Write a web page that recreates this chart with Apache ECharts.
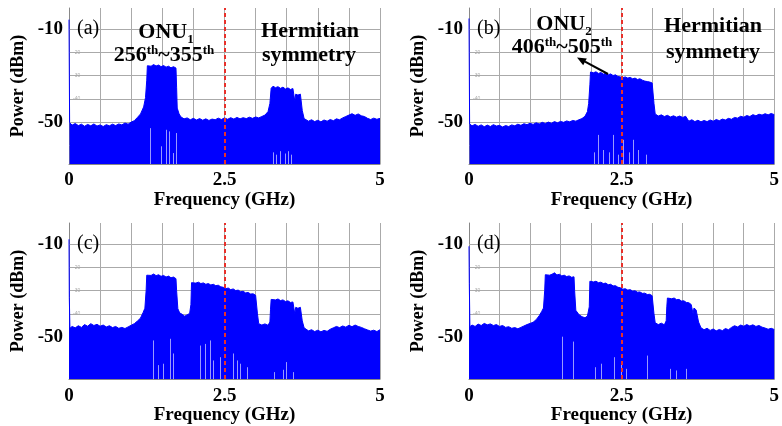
<!DOCTYPE html>
<html>
<head>
<meta charset="utf-8">
<script src="https://cdn.jsdelivr.net/npm/echarts@6/dist/echarts.min.js"></script>
<style>
  html, body { margin: 0; padding: 0; background: #fff; }
  #chart { width: 782px; height: 426px; }
</style>
</head>
<body>
<div id="chart"></div>
<script>
// tick labels
const freqLabels = [0, 2.5, 5]
const powerLabels = [-10, -50]
const analyzerLabels = [-20, -30, -40]
const gridLevels = [-10, -20, -30, -40, -50, -60]
const centerFreq = 2.5

// spectrum envelopes [GHz, dBm]
const specA = [
  [0, -6], [0.01, -50.2], [0.05, -51.3], [0.1, -50.6], [0.15, -51.5], [0.2, -50.9], [0.25, -51.8], [0.3, -51.0],
  [0.35, -51.6], [0.4, -50.8], [0.45, -51.7], [0.5, -51.2], [0.55, -51.9], [0.6, -51.1], [0.65, -51.6], [0.7, -50.9],
  [0.75, -51.5], [0.8, -50.8], [0.85, -51.2], [0.9, -50.4], [0.95, -50.9], [1.0, -50.0], [1.05, -49.4], [1.1, -48.0],
  [1.15, -46.5], [1.2, -43.5], [1.23, -39.5], [1.25, -32], [1.26, -25.8],
  [1.28, -25.4], [1.32, -26.0], [1.36, -25.3], [1.4, -25.9], [1.44, -25.5], [1.48, -26.2], [1.52, -25.7], [1.56, -26.4],
  [1.6, -26.0], [1.64, -26.7], [1.68, -26.2], [1.72, -26.8], [1.73, -35], [1.74, -44], [1.77, -46.5], [1.8, -47.8],
  [1.85, -48.6], [1.9, -48.2], [1.95, -49.0], [2.0, -48.4], [2.05, -49.1], [2.1, -48.5], [2.15, -49.2], [2.2, -48.6],
  [2.25, -49.3], [2.3, -48.7], [2.35, -49.0], [2.4, -48.3], [2.45, -48.9], [2.5, -48.2], [2.55, -48.8], [2.6, -48.1],
  [2.65, -48.7], [2.7, -48.0], [2.75, -48.6], [2.8, -48.1], [2.85, -48.5], [2.9, -47.9], [2.95, -48.4], [3.0, -47.8],
  [3.05, -48.2], [3.1, -47.6], [3.15, -47.0], [3.2, -45.5], [3.23, -42], [3.25, -35.5],
  [3.28, -34.6], [3.32, -35.2], [3.36, -34.8], [3.4, -35.5], [3.44, -35.0], [3.48, -35.8], [3.52, -35.3], [3.56, -36.0],
  [3.6, -35.6], [3.62, -36.2], [3.63, -41], [3.645, -38.0], [3.68, -38.4], [3.72, -38.0], [3.74, -38.6], [3.75, -45],
  [3.78, -48.5], [3.85, -49.6], [3.9, -49.0], [3.95, -49.8], [4.0, -49.2], [4.05, -49.9], [4.1, -49.1], [4.15, -49.6],
  [4.2, -48.9], [4.25, -49.4], [4.3, -48.6], [4.35, -49.0], [4.4, -48.2], [4.45, -47.6], [4.5, -47.0], [4.55, -46.4],
  [4.6, -47.1], [4.65, -46.5], [4.7, -47.3], [4.75, -47.6], [4.8, -48.4], [4.85, -48.9], [4.9, -48.3], [4.95, -48.8],
  [5.0, -48.4]
]
const specB = [
  [0, -5.5], [0.01, -50.8], [0.05, -51.6], [0.1, -51.0], [0.15, -51.8], [0.2, -51.2], [0.25, -52.0], [0.3, -51.3],
  [0.35, -51.9], [0.4, -51.1], [0.45, -51.7], [0.5, -51.4], [0.55, -52.1], [0.6, -51.5], [0.65, -51.9], [0.7, -51.2],
  [0.75, -51.6], [0.8, -50.9], [0.85, -51.4], [0.9, -50.7], [0.95, -51.1], [1.0, -50.5], [1.05, -51.0], [1.1, -50.3],
  [1.15, -50.8], [1.2, -50.1], [1.25, -50.6], [1.3, -50.0], [1.35, -50.5], [1.4, -49.8], [1.45, -50.3], [1.5, -49.7],
  [1.55, -50.1], [1.6, -49.5], [1.65, -49.9], [1.7, -49.3], [1.75, -49.6], [1.8, -49.0], [1.85, -48.5], [1.9, -47.5],
  [1.94, -45.5], [1.96, -42], [1.98, -34], [1.99, -28.5],
  [2.0, -28.2], [2.04, -28.8], [2.08, -28.4], [2.12, -29.1], [2.16, -28.7], [2.2, -29.4], [2.24, -29.0], [2.28, -29.7],
  [2.32, -29.3], [2.36, -30.0], [2.4, -29.7], [2.44, -30.4], [2.48, -30.6], [2.52, -30.9], [2.56, -30.6], [2.6, -31.1],
  [2.64, -30.8], [2.68, -31.4], [2.72, -31.1], [2.76, -31.7], [2.8, -31.4], [2.84, -32.0], [2.88, -32.4], [2.92, -32.6],
  [2.96, -32.8], [3.0, -33.2], [3.02, -33.5], [3.03, -42], [3.05, -46.5], [3.1, -47.4], [3.15, -46.9], [3.2, -47.6],
  [3.25, -47.1], [3.3, -47.8], [3.35, -47.3], [3.4, -47.9], [3.45, -47.4], [3.5, -48.0], [3.55, -47.5], [3.58, -48.2],
  [3.6, -49.6], [3.65, -49.0], [3.7, -49.8], [3.75, -49.2], [3.8, -49.9], [3.85, -49.3], [3.9, -49.8], [3.95, -49.1],
  [4.0, -49.6], [4.05, -48.9], [4.1, -49.4], [4.15, -48.7], [4.2, -49.1], [4.25, -48.4], [4.3, -48.8], [4.35, -48.0],
  [4.4, -48.3], [4.45, -47.5], [4.5, -47.9], [4.55, -47.2], [4.6, -47.6], [4.65, -46.8], [4.7, -47.3], [4.75, -46.6],
  [4.8, -47.0], [4.85, -46.4], [4.9, -46.9], [4.95, -46.3], [5.0, -46.8]
]
const specC = [
  [0, -8], [0.005, -33], [0.015, -46.2], [0.05, -45.4], [0.1, -46.0], [0.15, -45.1], [0.2, -45.8], [0.25, -44.6],
  [0.3, -45.3], [0.35, -44.2], [0.4, -45.0], [0.45, -44.5], [0.5, -45.3], [0.55, -44.8], [0.6, -45.6], [0.65, -45.1],
  [0.7, -45.9], [0.75, -45.4], [0.8, -46.2], [0.85, -45.8], [0.9, -46.3], [0.95, -45.6], [1.0, -44.9], [1.05, -44.2],
  [1.1, -43.1], [1.15, -41.8], [1.19, -39.5], [1.22, -37.6], [1.24, -30], [1.25, -23.4],
  [1.28, -22.8], [1.32, -23.5], [1.36, -22.9], [1.4, -23.6], [1.44, -23.2], [1.48, -23.9], [1.52, -23.5], [1.56, -24.2],
  [1.6, -23.8], [1.64, -24.5], [1.68, -24.2], [1.72, -24.9], [1.73, -30], [1.75, -37.8], [1.78, -39.6], [1.82, -40.2],
  [1.86, -41.0], [1.9, -40.4], [1.94, -39.8], [1.96, -36], [1.97, -26.6],
  [2.0, -26.2], [2.04, -26.8], [2.08, -26.4], [2.12, -27.0], [2.16, -26.7], [2.2, -27.3], [2.24, -27.0], [2.28, -27.6],
  [2.32, -27.3], [2.36, -27.9], [2.4, -27.7], [2.44, -28.4], [2.48, -28.6], [2.52, -29.2], [2.56, -28.9], [2.6, -29.6],
  [2.64, -29.3], [2.68, -30.0], [2.72, -29.8], [2.76, -30.5], [2.8, -30.3], [2.84, -31.0], [2.88, -30.8], [2.92, -31.5],
  [2.96, -31.4], [3.0, -32.0], [3.02, -32.3], [3.03, -40], [3.05, -44.2], [3.1, -44.8], [3.15, -44.3], [3.2, -44.9],
  [3.23, -43.5], [3.24, -38], [3.25, -33.8],
  [3.28, -33.4], [3.32, -34.0], [3.36, -33.6], [3.4, -34.3], [3.44, -34.0], [3.48, -34.7], [3.52, -34.4], [3.56, -35.1],
  [3.6, -34.9], [3.62, -35.6], [3.63, -40], [3.645, -37.2], [3.68, -37.6], [3.72, -37.2], [3.74, -37.9], [3.75, -43],
  [3.78, -46.0], [3.85, -47.3], [3.9, -46.8], [3.95, -47.6], [4.0, -47.0], [4.05, -47.7], [4.1, -47.1], [4.15, -47.5],
  [4.2, -46.6], [4.25, -46.0], [4.3, -45.4], [4.35, -45.9], [4.4, -45.2], [4.45, -45.7], [4.5, -44.9], [4.55, -45.5],
  [4.6, -44.8], [4.65, -45.4], [4.7, -45.8], [4.75, -46.4], [4.8, -46.9], [4.85, -47.4], [4.9, -47.0], [4.95, -47.6],
  [5.0, -46.8]
]
const specD = [
  [0, -11], [0.005, -27], [0.015, -45.5], [0.05, -44.8], [0.1, -45.4], [0.15, -44.4], [0.2, -45.0], [0.25, -44.1],
  [0.3, -44.7], [0.35, -44.3], [0.4, -45.0], [0.45, -44.6], [0.5, -45.4], [0.55, -45.0], [0.6, -45.8], [0.65, -45.5],
  [0.7, -46.2], [0.75, -45.9], [0.8, -46.4], [0.85, -45.8], [0.9, -45.2], [0.95, -44.6], [1.0, -44.1], [1.05, -43.6],
  [1.1, -42.5], [1.15, -40.8], [1.19, -39.0], [1.22, -37.5], [1.24, -30], [1.25, -23.2],
  [1.28, -22.7], [1.32, -23.4], [1.36, -23.0], [1.4, -22.4], [1.44, -23.3], [1.48, -23.0], [1.52, -23.7], [1.56, -23.4],
  [1.6, -24.0], [1.64, -23.7], [1.68, -24.3], [1.72, -24.1], [1.73, -30], [1.75, -38.5], [1.8, -40.3], [1.85, -41.2],
  [1.9, -41.7], [1.94, -40.9], [1.97, -37], [1.98, -26.0],
  [2.0, -25.7], [2.04, -26.3], [2.08, -26.0], [2.12, -26.6], [2.16, -26.4], [2.2, -27.0], [2.24, -26.8], [2.28, -27.5],
  [2.32, -27.3], [2.36, -28.0], [2.4, -27.9], [2.44, -28.6], [2.48, -28.8], [2.52, -29.4], [2.56, -29.2], [2.6, -29.8],
  [2.64, -29.6], [2.68, -30.2], [2.72, -30.1], [2.76, -30.7], [2.8, -30.6], [2.84, -31.2], [2.88, -31.1], [2.92, -31.7],
  [2.96, -31.6], [3.0, -32.2], [3.02, -32.5], [3.03, -40], [3.05, -43.8], [3.1, -44.6], [3.15, -44.0], [3.2, -44.7],
  [3.23, -43], [3.24, -37], [3.25, -33.2],
  [3.28, -32.8], [3.32, -33.5], [3.36, -33.2], [3.4, -33.9], [3.44, -33.8], [3.48, -34.5], [3.52, -34.4], [3.56, -35.1],
  [3.6, -35.2], [3.64, -36.0], [3.66, -36.4], [3.67, -40], [3.685, -37.5], [3.72, -38.3], [3.75, -38.9], [3.76, -43.5],
  [3.8, -46.0], [3.85, -46.8], [3.9, -46.2], [3.95, -47.1], [4.0, -46.5], [4.05, -47.3], [4.1, -46.7], [4.15, -47.2],
  [4.2, -46.3], [4.25, -46.8], [4.3, -45.8], [4.35, -45.1], [4.4, -45.6], [4.45, -44.8], [4.5, -45.3], [4.55, -44.6],
  [4.6, -45.2], [4.65, -44.7], [4.7, -45.4], [4.75, -45.0], [4.8, -45.7], [4.85, -46.1], [4.9, -46.6], [4.95, -46.2],
  [5.0, -46.7]
]

// white null lines inside the fill [GHz, top dBm]
const nullsA = [[1.31, -52.6], [1.49, -60.4], [1.57, -53.3], [1.61, -54], [1.68, -63.3], [1.73, -54.7],
  [3.28, -63], [3.33, -64], [3.4, -62.5], [3.47, -63.5], [3.52, -62.5], [3.58, -64]]
const nullsB = [[2.05, -63], [2.12, -55.5], [2.2, -62], [2.3, -63], [2.37, -55.5], [2.45, -64], [2.53, -57.6],
  [2.62, -63], [2.69, -57.6], [2.78, -62], [2.9, -64]]
const nullsC = [[1.36, -51.4], [1.44, -62], [1.52, -61.4], [1.62, -50.7], [1.68, -57], [2.11, -53.6], [2.19, -52.9],
  [2.27, -51.4], [2.32, -60], [2.43, -58.6], [2.64, -57], [2.7, -60], [2.75, -61.4], [2.86, -62.9], [3.3, -65],
  [3.45, -64], [3.5, -60.7], [3.6, -65]]
const nullsD = [[1.53, -49.8], [1.71, -51.9], [2.06, -62.9], [2.17, -61.4], [2.38, -58.6], [2.49, -61.4], [2.57, -63.6],
  [2.92, -57.9], [3.29, -63.6], [3.4, -64.3], [3.56, -63.6]]

const FONT = "'Liberation Serif', 'DejaVu Serif', serif"
const Y_MIN = -68
const Y_MAX = -1

const panels = [
  { tag: '(a)', spec: specA, nulls: nullsA, left: 69, top: 8, width: 311, height: 156 },
  { tag: '(b)', spec: specB, nulls: nullsB, left: 469, top: 8, width: 312, height: 156 },
  { tag: '(c)', spec: specC, nulls: nullsC, left: 69, top: 223, width: 311, height: 157 },
  { tag: '(d)', spec: specD, nulls: nullsD, left: 469, top: 223, width: 312, height: 157 },
]

const grid = [], xAxis = [], yAxis = [], series = [], graphic = []

panels.forEach((p, i) => {
  grid.push({ left: p.left, top: p.top, width: p.width, height: p.height })
  xAxis.push({
    type: 'value', gridIndex: i, min: 0, max: 5, interval: 0.5,
    name: 'Frequency (GHz)', nameLocation: 'middle', nameGap: 25,
    nameTextStyle: { fontFamily: FONT, fontSize: 19, fontWeight: 'bold', color: '#000' },
    axisLine: { show: true, lineStyle: { color: '#888' } },
    axisTick: { show: false },
    axisLabel: { customValues: freqLabels, margin: 7, fontFamily: FONT, fontSize: 19, fontWeight: 'bold', color: '#000' },
    splitLine: { show: true, lineStyle: { color: '#aaa', width: 1 } },
  })
  yAxis.push({
    type: 'value', gridIndex: i, min: Y_MIN, max: Y_MAX,
    name: 'Power (dBm)', nameLocation: 'middle', nameGap: 42,
    nameTextStyle: { fontFamily: FONT, fontSize: 18, fontWeight: 'bold', color: '#000' },
    axisLine: { show: true, lineStyle: { color: '#888' } },
    axisTick: { show: false },
    axisLabel: { customValues: powerLabels, margin: 6, fontFamily: FONT, fontSize: 19, fontWeight: 'bold', color: '#000' },
    splitLine: { show: false },
  })
  // faint labels from the analyzer screen
  yAxis.push({
    type: 'value', gridIndex: i, min: Y_MIN, max: Y_MAX, position: 'left',
    axisLine: { show: false }, axisTick: { show: false }, splitLine: { show: false },
    axisLabel: { customValues: analyzerLabels, inside: true, margin: 4, fontSize: 5, color: '#aaa' },
  })

  // horizontal grid, under the spectrum
  series.push({
    type: 'line', xAxisIndex: i, yAxisIndex: 2 * i, data: [], z: 1, silent: true,
    markLine: {
      z: 1, silent: true, symbol: 'none', animation: false, label: { show: false },
      lineStyle: { color: '#aaa', width: 1, type: 'solid' },
      data: gridLevels.map(v => ({ yAxis: v })),
    },
  })
  series.push({
    type: 'line', xAxisIndex: i, yAxisIndex: 2 * i, data: p.spec, z: 2,
    symbol: 'none', animation: false,
    lineStyle: { color: '#0000ff', width: 1 },
    areaStyle: { color: '#0000ff', origin: 'start', opacity: 1 },
  })
  series.push({
    type: 'line', xAxisIndex: i, yAxisIndex: 2 * i, data: [], z: 3, silent: true,
    markLine: {
      z: 6, silent: true, symbol: 'none', animation: false, label: { show: false },
      lineStyle: { color: 'rgba(255,255,255,0.6)', width: 1, type: 'solid' },
      data: p.nulls.map(n => [{ coord: [n[0], Y_MIN] }, { coord: [n[0], n[1]] }]).concat([
        { xAxis: centerFreq, lineStyle: { color: '#e8302a', width: 2, type: [4, 3] } },
      ]),
    },
  })

  graphic.push({
    type: 'text', z: 10,
    style: { x: p.left + 8, y: p.top + 21, text: p.tag, font: `20px ${FONT}`, fill: '#000', verticalAlign: 'middle' },
  })
})

const rich = {
  n: { fontFamily: FONT, fontSize: 22, fontWeight: 'bold', fill: '#000', verticalAlign: 'bottom' },
  sub: { fontFamily: FONT, fontSize: 13, fontWeight: 'bold', fill: '#000', verticalAlign: 'bottom', padding: [0, 0, -3, 0] },
  sup: { fontFamily: FONT, fontSize: 13, fontWeight: 'bold', fill: '#000', verticalAlign: 'top' },
}
function note(x, y, text) {
  return { type: 'text', z: 10, style: { x, y, text, rich, align: 'center', verticalAlign: 'middle', fill: '#000' } }
}
graphic.push(
  note(166, 32, '{n|ONU}{sub|1}'),
  note(164, 55, '{n|256}{sup|th}{n|~355}{sup|th}'),
  note(310, 31, '{n|Hermitian}'),
  note(309, 55, '{n|symmetry}'),
  note(564, 24, '{n|ONU}{sub|2}'),
  note(562, 47, '{n|406}{sup|th}{n|~505}{sup|th}'),
  note(713, 26, '{n|Hermitian}'),
  note(713, 52, '{n|symmetry}'),
  // arrow pointing at the ONU2 band
  { type: 'line', z: 10, shape: { x1: 608, y1: 74, x2: 585, y2: 61.7 }, style: { stroke: '#000', lineWidth: 2 } },
  { type: 'polygon', z: 10, shape: { points: [[577, 57.5], [586.8, 58.4], [583.2, 65.2]] }, style: { fill: '#000' } }
)

const chart = echarts.init(document.getElementById('chart'))
chart.setOption({
  animation: false,
  backgroundColor: '#fff',
  grid, xAxis, yAxis, series, graphic,
})
</script>
</body>
</html>
